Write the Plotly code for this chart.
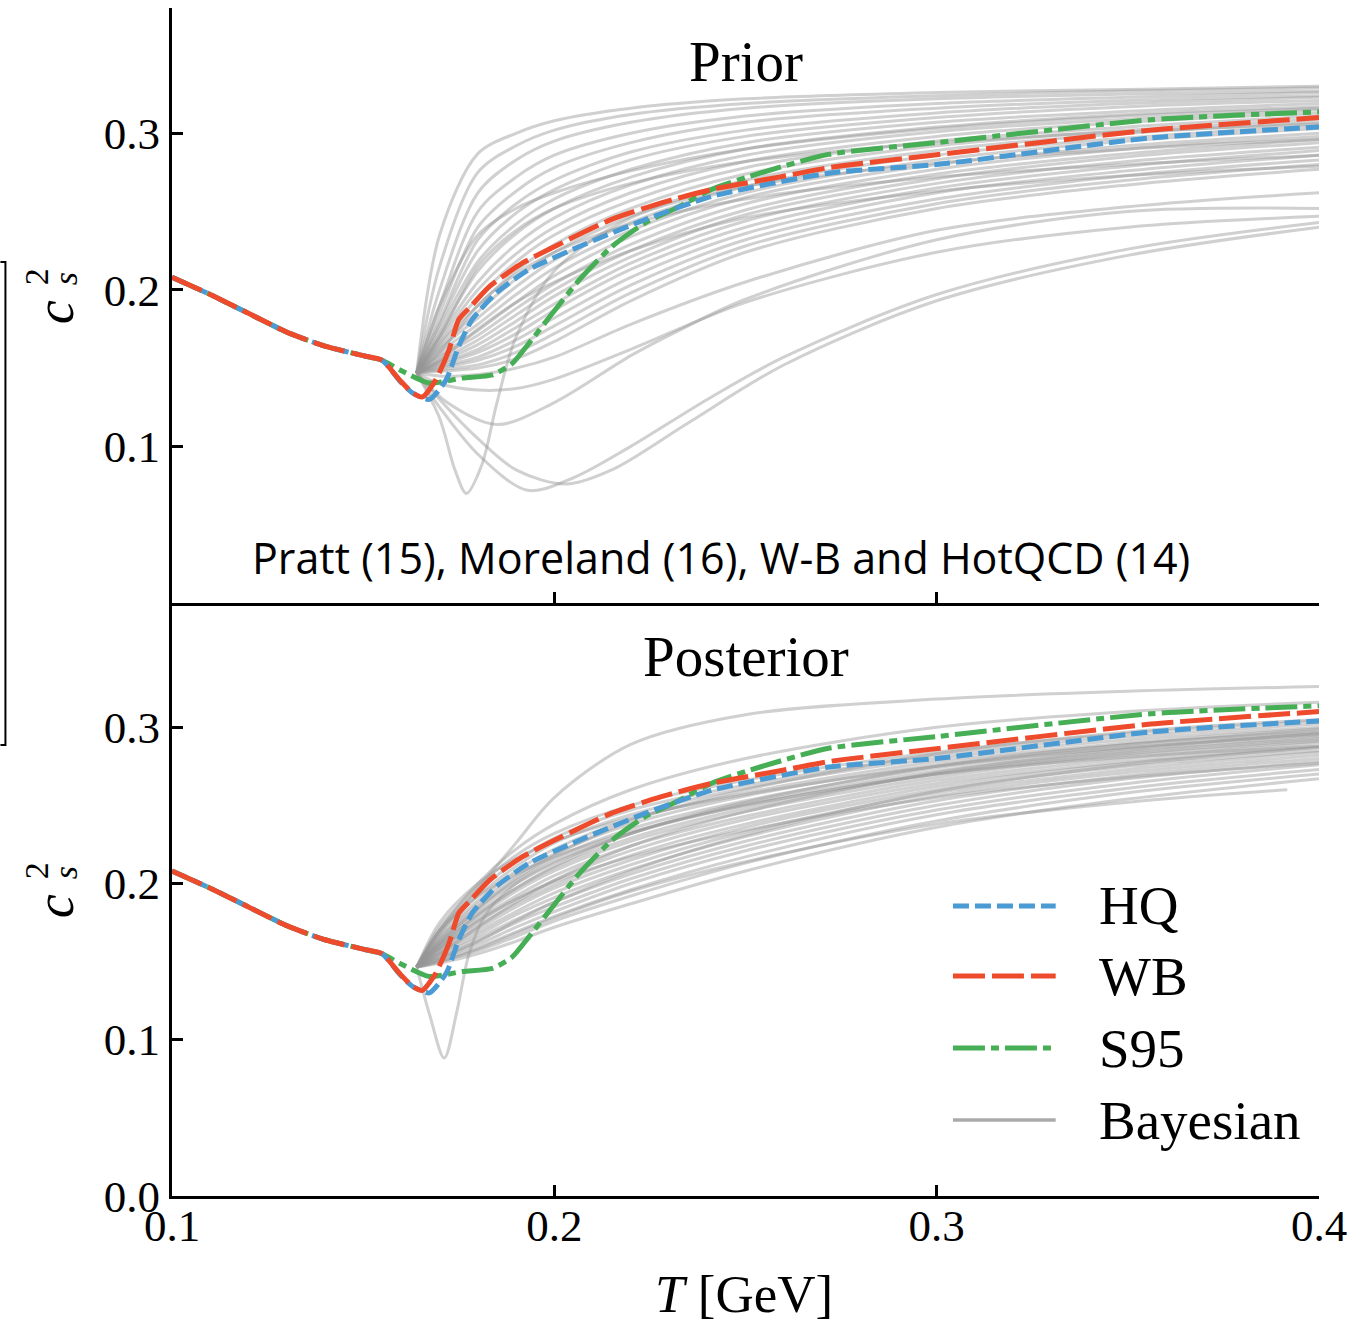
import plotly.graph_objects as go

# ---------------- data ----------------
T_had = [0.100, 0.110, 0.120, 0.130, 0.140, 0.150, 0.155]
cs_had = [0.208, 0.197, 0.185, 0.173, 0.164, 0.158, 0.155]

T_wb = [0.1595, 0.163, 0.1655, 0.169, 0.1725, 0.175, 0.178, 0.183, 0.1916, 0.202, 0.215, 0.228, 0.241, 0.2587, 0.2717, 0.300, 0.356, 0.400]
cs_wb = [0.1425, 0.134, 0.1316, 0.1425, 0.162, 0.181, 0.189, 0.202, 0.217, 0.230, 0.245, 0.2556, 0.264, 0.272, 0.278, 0.2863, 0.302, 0.310]

T_hq = [0.1595, 0.163, 0.1673, 0.1717, 0.175, 0.1785, 0.1848, 0.1934, 0.2064, 0.2239, 0.2411, 0.2717, 0.300, 0.356, 0.400]
cs_hq = [0.142, 0.134, 0.130, 0.1425, 0.164, 0.181, 0.198, 0.213, 0.2275, 0.245, 0.2596, 0.2745, 0.280, 0.297, 0.304]

T_s95 = [0.1595, 0.1673, 0.176, 0.1838, 0.189, 0.1934, 0.1995, 0.2064, 0.215, 0.2239, 0.2325, 0.241, 0.254, 0.2717, 0.300, 0.356, 0.400]
cs_s95 = [0.149, 0.1405, 0.1437, 0.1457, 0.153, 0.166, 0.185, 0.206, 0.2275, 0.243, 0.253, 0.264, 0.2747, 0.2865, 0.294, 0.3086, 0.3137]

# Bayesian samples (grey), common temperature grid
T_grid = [0.164, 0.170, 0.180, 0.190, 0.200, 0.220, 0.250, 0.300, 0.350, 0.400]

prior_curves = [
    [0.147, 0.235, 0.287, 0.300, 0.308, 0.316, 0.322, 0.326, 0.328, 0.330],
    [0.147, 0.215, 0.275, 0.292, 0.302, 0.312, 0.319, 0.324, 0.327, 0.329],
    [0.147, 0.200, 0.262, 0.283, 0.295, 0.307, 0.316, 0.322, 0.325, 0.327],
    [0.147, 0.190, 0.250, 0.272, 0.286, 0.300, 0.311, 0.319, 0.323, 0.326],
    [0.147, 0.185, 0.240, 0.263, 0.278, 0.294, 0.307, 0.316, 0.321, 0.324],
    [0.147, 0.180, 0.232, 0.255, 0.270, 0.288, 0.302, 0.313, 0.319, 0.323],
    [0.147, 0.178, 0.225, 0.249, 0.264, 0.283, 0.298, 0.310, 0.317, 0.321],
    [0.147, 0.175, 0.218, 0.242, 0.258, 0.277, 0.294, 0.307, 0.314, 0.319],
    [0.147, 0.172, 0.212, 0.236, 0.252, 0.272, 0.290, 0.304, 0.312, 0.317],
    [0.147, 0.170, 0.205, 0.229, 0.246, 0.267, 0.286, 0.301, 0.309, 0.315],
    [0.147, 0.168, 0.200, 0.223, 0.240, 0.262, 0.282, 0.298, 0.307, 0.313],
    [0.147, 0.166, 0.195, 0.218, 0.235, 0.257, 0.278, 0.295, 0.304, 0.311],
    [0.147, 0.165, 0.190, 0.212, 0.229, 0.252, 0.274, 0.292, 0.302, 0.309],
    [0.147, 0.163, 0.186, 0.207, 0.224, 0.247, 0.270, 0.289, 0.300, 0.307],
    [0.147, 0.162, 0.182, 0.202, 0.219, 0.243, 0.266, 0.286, 0.297, 0.305],
    [0.147, 0.160, 0.178, 0.197, 0.214, 0.238, 0.262, 0.283, 0.295, 0.303],
    [0.147, 0.158, 0.174, 0.192, 0.209, 0.234, 0.259, 0.280, 0.292, 0.300],
    [0.147, 0.157, 0.171, 0.188, 0.204, 0.229, 0.255, 0.277, 0.290, 0.298],
    [0.147, 0.155, 0.168, 0.184, 0.200, 0.225, 0.251, 0.274, 0.287, 0.296],
    [0.147, 0.154, 0.165, 0.180, 0.196, 0.221, 0.248, 0.271, 0.285, 0.294],
    [0.147, 0.153, 0.162, 0.176, 0.191, 0.217, 0.244, 0.268, 0.282, 0.291],
    [0.147, 0.152, 0.160, 0.172, 0.187, 0.213, 0.240, 0.265, 0.279, 0.289],
    [0.147, 0.151, 0.157, 0.168, 0.182, 0.208, 0.236, 0.262, 0.276, 0.286],
    [0.147, 0.150, 0.155, 0.164, 0.177, 0.203, 0.232, 0.258, 0.273, 0.283],
    [0.147, 0.149, 0.152, 0.160, 0.172, 0.198, 0.228, 0.255, 0.270, 0.280],
    [0.147, 0.148, 0.150, 0.156, 0.167, 0.193, 0.224, 0.252, 0.267, 0.277],
    [0.147, 0.190, 0.235, 0.252, 0.262, 0.276, 0.290, 0.303, 0.311, 0.316],
    [0.147, 0.170, 0.215, 0.238, 0.252, 0.268, 0.282, 0.294, 0.301, 0.306],
    [0.147, 0.160, 0.190, 0.210, 0.224, 0.242, 0.258, 0.272, 0.280, 0.286],
    [0.147, 0.155, 0.175, 0.192, 0.205, 0.225, 0.246, 0.263, 0.273, 0.279],
    [0.147, 0.145, 0.146, 0.150, 0.157, 0.178, 0.205, 0.238, 0.253, 0.262],
    [0.147, 0.140, 0.136, 0.137, 0.143, 0.162, 0.192, 0.224, 0.240, 0.247],
]
# prior samples with dips (own temperature grids)
T_prior_dip1 = [0.164, 0.170, 0.174, 0.177, 0.181, 0.185, 0.190, 0.200, 0.220, 0.250, 0.300, 0.350, 0.400]
cs_prior_dip1 = [0.147, 0.118, 0.085, 0.070, 0.088, 0.128, 0.170, 0.212, 0.246, 0.266, 0.281, 0.290, 0.296]
T_prior_dip2 = [0.164, 0.170, 0.180, 0.193, 0.205, 0.220, 0.240, 0.260, 0.300, 0.350, 0.400]
cs_prior_dip2 = [0.147, 0.125, 0.095, 0.072, 0.080, 0.100, 0.130, 0.157, 0.197, 0.226, 0.243]
T_prior_dip3 = [0.164, 0.170, 0.180, 0.190, 0.203, 0.215, 0.235, 0.260, 0.300, 0.350, 0.400]
cs_prior_dip3 = [0.147, 0.130, 0.105, 0.085, 0.076, 0.085, 0.115, 0.152, 0.193, 0.222, 0.240]
T_prior_dip4 = [0.164, 0.172, 0.185, 0.200, 0.220, 0.2325, 0.250, 0.300, 0.350, 0.400]
cs_prior_dip4 = [0.147, 0.128, 0.114, 0.128, 0.158, 0.174, 0.194, 0.232, 0.250, 0.252]

post_curves = [
    [0.1465, 0.168, 0.197, 0.226, 0.255, 0.289, 0.308, 0.318, 0.323, 0.326],
    [0.1465, 0.170, 0.200, 0.222, 0.238, 0.260, 0.280, 0.300, 0.310, 0.316],
    [0.1465, 0.172, 0.198, 0.218, 0.232, 0.250, 0.266, 0.284, 0.296, 0.304],
    [0.1465, 0.170, 0.195, 0.214, 0.229, 0.247, 0.263, 0.282, 0.294, 0.302],
    [0.1465, 0.168, 0.192, 0.211, 0.226, 0.244, 0.261, 0.280, 0.292, 0.300],
    [0.1465, 0.166, 0.189, 0.208, 0.222, 0.241, 0.258, 0.278, 0.290, 0.299],
    [0.1465, 0.165, 0.187, 0.205, 0.219, 0.238, 0.256, 0.276, 0.289, 0.297],
    [0.1465, 0.164, 0.185, 0.202, 0.216, 0.235, 0.253, 0.274, 0.287, 0.296],
    [0.1465, 0.163, 0.183, 0.200, 0.213, 0.232, 0.251, 0.272, 0.285, 0.294],
    [0.1465, 0.162, 0.181, 0.197, 0.210, 0.229, 0.248, 0.270, 0.284, 0.293],
    [0.1465, 0.161, 0.179, 0.195, 0.208, 0.227, 0.246, 0.268, 0.282, 0.291],
    [0.1465, 0.160, 0.177, 0.192, 0.205, 0.224, 0.243, 0.266, 0.280, 0.290],
    [0.1465, 0.159, 0.175, 0.190, 0.202, 0.221, 0.241, 0.264, 0.278, 0.288],
    [0.1465, 0.158, 0.173, 0.187, 0.199, 0.218, 0.238, 0.262, 0.277, 0.287],
    [0.1465, 0.157, 0.171, 0.185, 0.197, 0.215, 0.236, 0.260, 0.275, 0.285],
    [0.1465, 0.156, 0.169, 0.182, 0.194, 0.212, 0.233, 0.258, 0.273, 0.284],
    [0.1465, 0.155, 0.167, 0.180, 0.191, 0.209, 0.230, 0.256, 0.271, 0.282],
    [0.1465, 0.154, 0.165, 0.177, 0.188, 0.206, 0.227, 0.253, 0.269, 0.280],
    [0.1465, 0.153, 0.163, 0.175, 0.185, 0.203, 0.224, 0.250, 0.267, 0.278],
    [0.1465, 0.152, 0.161, 0.172, 0.182, 0.200, 0.221, 0.247, 0.264, 0.276],
    [0.1465, 0.151, 0.159, 0.169, 0.179, 0.196, 0.217, 0.244, 0.261, 0.273],
    [0.1465, 0.150, 0.157, 0.166, 0.176, 0.192, 0.213, 0.240, 0.258, 0.270],
    [0.1465, 0.149, 0.155, 0.163, 0.172, 0.187, 0.208, 0.236, 0.254, 0.267],
    [0.1465, 0.175, 0.200, 0.216, 0.227, 0.242, 0.257, 0.275, 0.287, 0.295],
    [0.1465, 0.170, 0.192, 0.206, 0.217, 0.233, 0.250, 0.270, 0.283, 0.292],
    [0.1465, 0.160, 0.180, 0.197, 0.211, 0.232, 0.252, 0.275, 0.289, 0.298],
    [0.1465, 0.155, 0.172, 0.188, 0.202, 0.224, 0.246, 0.271, 0.286, 0.296],
    [0.1465, 0.158, 0.176, 0.190, 0.201, 0.217, 0.234, 0.255, 0.268, 0.277],
    [0.1465, 0.162, 0.184, 0.203, 0.218, 0.240, 0.260, 0.283, 0.297, 0.305],
    [0.1465, 0.152, 0.163, 0.176, 0.188, 0.208, 0.231, 0.259, 0.276, 0.287],
]
T_post_dip = [0.164, 0.1675, 0.1712, 0.1745, 0.1777, 0.182, 0.190, 0.200, 0.220, 0.250, 0.300, 0.350, 0.400]
cs_post_dip = [0.1465, 0.115, 0.0883, 0.118, 0.155, 0.180, 0.200, 0.214, 0.232, 0.250, 0.270, 0.281, 0.288]
T_post_short = [0.164, 0.170, 0.180, 0.190, 0.200, 0.220, 0.250, 0.300, 0.350, 0.3917]
cs_post_short = [0.1465, 0.150, 0.158, 0.168, 0.178, 0.195, 0.214, 0.238, 0.252, 0.260]

x_ticks = [0.1, 0.2, 0.3, 0.4]
x_ticktext = ["0.1", "0.2", "0.3", "0.4"]
y_ticks_top = [0.1, 0.2, 0.3]
y_ticktext_top = ["0.1", "0.2", "0.3"]
y_ticks_bot = [0.0, 0.1, 0.2, 0.3]
y_ticktext_bot = ["0.0", "0.1", "0.2", "0.3"]

legend_labels = ["HQ", "WB", "S95", "Bayesian"]

# ---------------- style ----------------
W, H = 1355, 1324
ML, MR, MT, MB = 172, 33, 8, 128
PW, PH = W - ML - MR, H - MT - MB
SPLIT = 603  # px of panel boundary


def xp(px):
    return (px - ML) / PW


def yp(py):
    return (H - MB - py) / PH


C_HQ = "#4a9ad3"
C_WB = "#ee4a2c"
C_S95 = "#46ae55"
C_GREY = "rgba(150,150,150,0.45)"
SERIF = "Liberation Serif, Times New Roman, serif"

fig = go.Figure()


def grey(xs, ys, axis):
    fig.add_trace(go.Scatter(x=xs, y=ys, mode="lines", line=dict(color=C_GREY, width=3, shape="spline", smoothing=0.9),
                             xaxis="x" if axis == 1 else "x2", yaxis="y" if axis == 1 else "y2",
                             showlegend=False, hoverinfo="skip"))


for c in prior_curves:
    grey(T_grid, c, 1)
grey(T_prior_dip1, cs_prior_dip1, 1)
grey(T_prior_dip2, cs_prior_dip2, 1)
grey(T_prior_dip3, cs_prior_dip3, 1)
grey(T_prior_dip4, cs_prior_dip4, 1)

for c in post_curves:
    grey(T_grid, c, 2)
grey(T_post_dip, cs_post_dip, 2)
grey(T_post_short, cs_post_short, 2)

main = [
    ("S95", T_s95, cs_s95, C_S95, "32px,6px,8px,6px"),
    ("HQ", T_hq, cs_hq, C_HQ, "16px,6px"),
    ("WB", T_wb, cs_wb, C_WB, "32px,7px"),
]
for ax in (1, 2):
    for name, tx, cy, col, dash in main:
        fig.add_trace(go.Scatter(x=T_had + tx, y=cs_had + cy, mode="lines", name=name,
                                 line=dict(color=col, width=5, dash=dash, shape="spline", smoothing=0.6),
                                 xaxis="x" if ax == 1 else "x2", yaxis="y" if ax == 1 else "y2",
                                 showlegend=False, hoverinfo="skip"))

split_frac = yp(SPLIT)
axis_common = dict(showline=True, linecolor="black", linewidth=3, ticks="inside", ticklen=11,
                   tickwidth=2.5, tickcolor="black", showgrid=False, zeroline=False,
                   tickfont=dict(family=SERIF, size=45, color="black"))

fig.update_layout(
    width=W, height=H, margin=dict(l=ML, r=MR, t=MT, b=MB),
    paper_bgcolor="white", plot_bgcolor="white", showlegend=False,
    xaxis=dict(domain=[0, 1], anchor="y", range=[0.1, 0.4], tickvals=x_ticks, showticklabels=False, **axis_common),
    yaxis=dict(domain=[split_frac, 1], anchor="x", range=[0, 0.38], tickvals=y_ticks_top, ticktext=y_ticktext_top,
               ticklabelstandoff=0, **axis_common),
    xaxis2=dict(domain=[0, 1], anchor="y2", range=[0.1, 0.4], tickvals=x_ticks, ticktext=x_ticktext,
                ticklabelstandoff=-12, **axis_common),
    yaxis2=dict(domain=[0, split_frac], anchor="x2", range=[0, 0.3795], tickvals=y_ticks_bot, ticktext=y_ticktext_bot,
                ticklabelstandoff=0, **axis_common),
)

ann = []


def text(px, py, s, size, family=SERIF, angle=0):
    ann.append(dict(x=xp(px), y=yp(py), xref="paper", yref="paper", text=s, showarrow=False,
                    font=dict(family=family, size=size, color="black"), textangle=angle,
                    xanchor="center", yanchor="middle"))


text(747, 62, "Prior", 57)
text(747, 656, "Posterior", 57)
text(722, 558, "Pratt (15), Moreland (16), W-B and HotQCD (14)", 43, family="Open Sans, Noto Sans, sans-serif")
text(745, 1294, "<i>T</i> [GeV]", 53)
# y labels c_s^2 (rotated)
for cy in (312, 906):
    text(55, cy, "<i>c</i>", 54, angle=-90)
    text(65, cy - 33, "<i>s</i>", 34, angle=-90)
    text(36, cy - 35, "2", 34, angle=-90)

shapes = []
# bracket at far left
shapes.append(dict(type="path", xref="paper", yref="paper",
                   path=f"M {xp(0)},{yp(262)} L {xp(5)},{yp(262)} L {xp(5)},{yp(745)} L {xp(0)},{yp(745)}",
                   line=dict(color="black", width=2)))

# legend
leg_y = [906, 976, 1048, 1120]
leg_style = [(C_HQ, "16px,6px", 5), (C_WB, "32px,7px", 5), (C_S95, "32px,6px,8px,6px", 5), ("#aaaaaa", "solid", 3.5)]
for lab, ly, (col, dash, w) in zip(legend_labels, leg_y, leg_style):
    shapes.append(dict(type="line", xref="paper", yref="paper", x0=xp(955), x1=xp(1058), y0=yp(ly), y1=yp(ly),
                       line=dict(color=col, width=w, dash=dash)))
    ann.append(dict(x=xp(1099), y=yp(ly), xref="paper", yref="paper", text=lab, showarrow=False,
                    font=dict(family=SERIF, size=55, color="black"), xanchor="left", yanchor="middle"))

fig.update_layout(annotations=ann, shapes=shapes)
fig.write_html("out.html", config={"displayModeBar": False},
               post_script="document.body.style.margin='0px';")
